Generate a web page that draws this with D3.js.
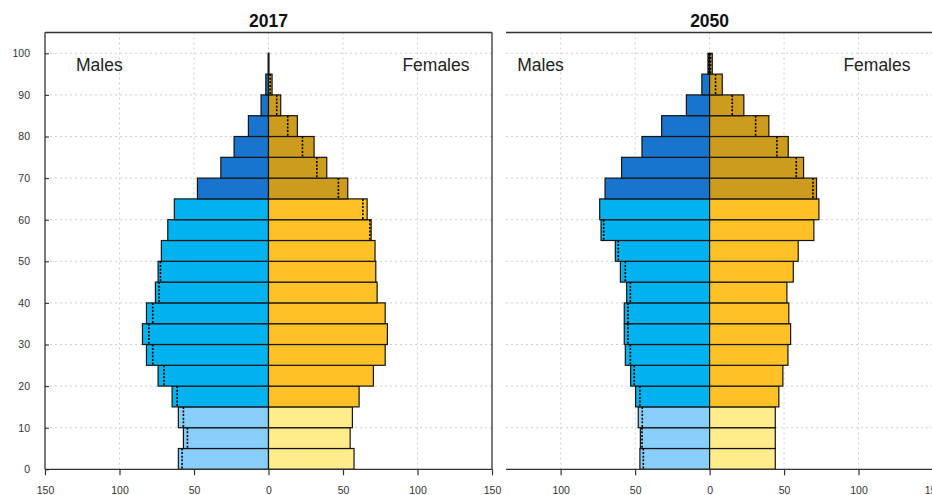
<!DOCTYPE html>
<html>
<head>
<meta charset="utf-8">
<script src="https://cdn.jsdelivr.net/npm/d3@7"></script>
<style>
  html, body { margin: 0; padding: 0; background: #fff; }
  svg { display: block; font-family: "Liberation Sans", Arial, sans-serif; }
</style>
</head>
<body>
<svg id="chart" width="932" height="495"></svg>
<script>
// Lower bound of each five-year age group
const ageGroups = [0, 5, 10, 15, 20, 25, 30, 35, 40, 45, 50, 55, 60, 65, 70, 75, 80, 85, 90, 95];
const panelYears = ["2017", "2050"];

// Population (thousands) by age group
const males2017   = [60.5, 57.1, 60.5, 64.7, 74.1, 81.9, 84.6, 81.9, 75.9, 74.1, 71.9, 67.6, 63.2, 47.7, 32.0, 23.1, 13.5, 5.0, 1.8, 0.2];
const females2017 = [57.4, 54.8, 56.3, 60.8, 70.4, 78.3, 79.8, 78.3, 72.9, 72.0, 71.5, 68.9, 66.2, 53.2, 39.1, 30.6, 19.4, 8.2, 2.4, 0.3];
const males2050   = [46.8, 46.5, 47.9, 49.7, 53.0, 56.6, 57.3, 57.3, 55.7, 59.9, 63.3, 72.9, 73.8, 70.2, 59.1, 45.4, 32.2, 15.6, 5.2, 1.1];
const females2050 = [44.1, 44.1, 44.1, 46.5, 49.2, 52.6, 54.4, 53.2, 51.9, 56.2, 59.5, 70.0, 73.4, 71.8, 63.1, 52.8, 39.8, 23.0, 8.5, 1.8];

// Comparison pyramid shown as dotted lines (null where it is not drawn)
const malesCmp2017   = [58.0, 54.4, 57.1, 61.3, 70.1, 77.7, 80.3, 77.7, 73.4, 72.5, null, null, null, null, null, null, null, null, null, null];
const femalesCmp2017 = [null, null, null, null, null, null, null, null, null, null, null, 68.0, 63.3, 46.9, 32.4, 22.8, 12.9, 5.5, 1.1, null];
const malesCmp2050   = [44.5, 45.4, 45.2, 46.8, 50.6, 53.2, 54.8, 54.8, 53.2, 56.6, 61.3, 71.1, null, null, null, null, null, null, null, 0.5];
const femalesCmp2050 = [null, null, null, null, null, null, null, null, null, null, null, null, null, 69.4, 58.2, 45.2, 30.9, 15.2, 4.0, 0.6];

const xTicks = [-150, -100, -50, 0, 50, 100, 150];
const yTicks = [0, 10, 20, 30, 40, 50, 60, 70, 80, 90, 100];

// Colours by broad age class: children, working age, elderly
const maleColors   = ["#87CEFA", "#00B2EE", "#1874CD"];
const femaleColors = ["#FFEC8B", "#FFC125", "#CD9B1D"];
const ageClass = a => (a < 15 ? 0 : a < 65 ? 1 : 2);

const svg = d3.select("#chart");

const y = d3.scaleLinear().domain([0, 105]).range([469.3, 32.5]);

const panels = [
  { year: panelYears[0], males: males2017, females: females2017, mCmp: malesCmp2017, fCmp: femalesCmp2017,
    range: [45, 492], clipLeft: 45, showY: true, leftBorder: true },
  { year: panelYears[1], males: males2050, females: females2050, mCmp: malesCmp2050, fCmp: femalesCmp2050,
    range: [486.2, 933], clipLeft: 506, showY: false, leftBorder: false }
];

panels.forEach((p, pi) => {
  const x = d3.scaleLinear().domain([-150, 150]).range(p.range);
  const left = p.clipLeft, right = Math.min(p.range[1], 932);
  const top = y(105), bottom = y(0);

  const clipId = "clip" + pi;
  svg.append("clipPath").attr("id", clipId)
    .append("rect").attr("x", left).attr("y", top - 1)
    .attr("width", right - left + 2).attr("height", bottom - top + 2);

  const g = svg.append("g");
  const plot = g.append("g").attr("clip-path", `url(#${clipId})`);

  // grid
  plot.selectAll(".hgrid").data(yTicks.filter(t => t > 0)).join("line")
    .attr("x1", left).attr("x2", right)
    .attr("y1", d => y(d)).attr("y2", d => y(d))
    .attr("stroke", "#cfcfcf").attr("stroke-dasharray", "2,3").attr("stroke-width", 1);
  plot.selectAll(".vgrid").data([-100, -50, 0, 50, 100]).join("line")
    .attr("x1", d => x(d)).attr("x2", d => x(d))
    .attr("y1", top).attr("y2", bottom)
    .attr("stroke", "#cfcfcf").attr("stroke-dasharray", "2,3").attr("stroke-width", 1);

  const rows = ageGroups.map((a, i) => ({
    age: a, m: p.males[i], f: p.females[i], mc: p.mCmp[i], fc: p.fCmp[i]
  }));

  // male bars (left of zero)
  plot.selectAll(".mbar").data(rows).join("rect")
    .attr("x", d => x(-d.m)).attr("width", d => x(0) - x(-d.m))
    .attr("y", d => y(d.age + 5)).attr("height", d => y(d.age) - y(d.age + 5))
    .attr("fill", d => maleColors[ageClass(d.age)])
    .attr("stroke", "#141414").attr("stroke-width", 1.2);

  // female bars (right of zero)
  plot.selectAll(".fbar").data(rows).join("rect")
    .attr("x", x(0)).attr("width", d => x(d.f) - x(0))
    .attr("y", d => y(d.age + 5)).attr("height", d => y(d.age) - y(d.age + 5))
    .attr("fill", d => femaleColors[ageClass(d.age)])
    .attr("stroke", "#141414").attr("stroke-width", 1.2);

  // dotted comparison lines
  plot.selectAll(".mcmp").data(rows.filter(d => d.mc != null)).join("line")
    .attr("x1", d => x(-d.mc)).attr("x2", d => x(-d.mc))
    .attr("y1", d => y(d.age + 5)).attr("y2", d => y(d.age))
    .attr("stroke", "#000").attr("stroke-width", 1.6).attr("stroke-dasharray", "2,1.6");
  plot.selectAll(".fcmp").data(rows.filter(d => d.fc != null)).join("line")
    .attr("x1", d => x(d.fc)).attr("x2", d => x(d.fc))
    .attr("y1", d => y(d.age + 5)).attr("y2", d => y(d.age))
    .attr("stroke", "#000").attr("stroke-width", 1.6).attr("stroke-dasharray", "2,1.6");

  // frame
  g.append("line").attr("x1", left).attr("x2", right).attr("y1", top).attr("y2", top)
    .attr("stroke", "#333").attr("stroke-width", 1.3);
  if (p.leftBorder) {
    g.append("line").attr("x1", left).attr("x2", left).attr("y1", top).attr("y2", bottom)
      .attr("stroke", "#333").attr("stroke-width", 1.3);
  }
  if (p.range[1] <= 932) {
    g.append("line").attr("x1", p.range[1]).attr("x2", p.range[1]).attr("y1", top).attr("y2", bottom)
      .attr("stroke", "#333").attr("stroke-width", 1.3);
  }

  // x axis
  const xTickVals = xTicks.filter(t => x(t) >= left - 0.5);
  const xAxis = g.append("g").attr("transform", `translate(0,${bottom})`)
    .call(d3.axisBottom(x).tickValues(xTickVals).tickFormat(d => Math.abs(d))
      .tickSize(6).tickSizeOuter(0).tickPadding(11));
  xAxis.select(".domain").remove();
  xAxis.append("line").attr("x1", left).attr("x2", right).attr("y1", 0).attr("y2", 0)
    .attr("stroke", "#333").attr("stroke-width", 1.3);
  xAxis.selectAll(".tick line").attr("stroke", "#333").attr("stroke-width", 1.2);
  xAxis.selectAll(".tick text").attr("fill", "#333").attr("font-size", "10.5px")
    .attr("font-family", "'Liberation Sans', Arial, sans-serif");

  // y axis
  if (p.showY) {
    const yAxis = g.append("g").attr("transform", `translate(${left},0)`)
      .call(d3.axisLeft(y).tickValues(yTicks).tickSize(-4).tickSizeOuter(0).tickPadding(15));
    yAxis.select(".domain").remove();
    yAxis.selectAll(".tick line").attr("stroke", "#333").attr("stroke-width", 1.1);
    yAxis.selectAll(".tick text").attr("fill", "#333").attr("font-size", "10.5px")
      .attr("font-family", "'Liberation Sans', Arial, sans-serif");
  }

  // title
  g.append("text").attr("x", x(0)).attr("y", 26.5).attr("text-anchor", "middle")
    .attr("font-size", "17.5px").attr("font-weight", "bold").attr("fill", "#111")
    .text(p.year);

  // sex labels
  g.append("text").attr("x", x(-150) + 31).attr("y", 70.7)
    .attr("font-size", "17.5px").attr("fill", "#222").text("Males");
  g.append("text").attr("x", x(150) - 22.5).attr("y", 70.7).attr("text-anchor", "end")
    .attr("font-size", "17.5px").attr("fill", "#222").text("Females");
});
</script>
</body>
</html>
